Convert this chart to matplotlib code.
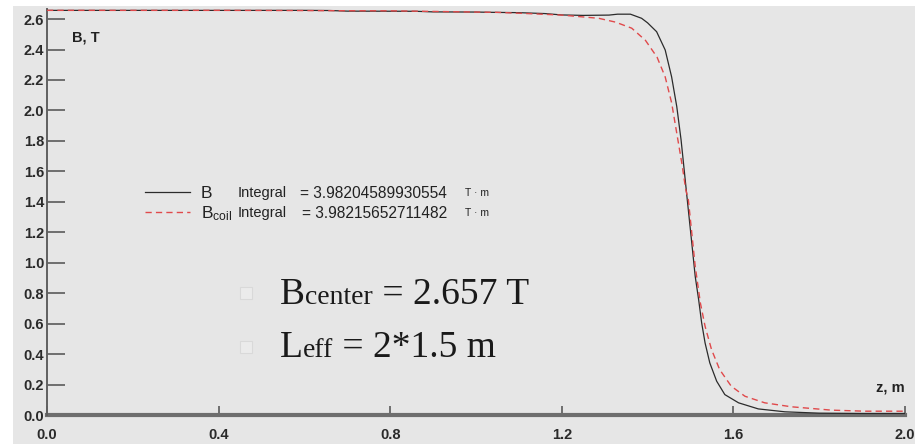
import matplotlib
matplotlib.use("Agg")
import matplotlib.pyplot as plt
from matplotlib.lines import Line2D
from matplotlib.patches import Rectangle

plt.rcParams['font.family'] = ['Liberation Sans', 'DejaVu Sans']
plt.rcParams['mathtext.fontset'] = 'custom'
plt.rcParams['mathtext.rm'] = 'Liberation Sans'
plt.rcParams['mathtext.it'] = 'Liberation Sans'

# ---- data ----
z_B = [0.0, 0.2, 0.4, 0.6, 0.66, 0.70, 0.86, 0.9, 1.0, 1.04, 1.1, 1.16, 1.2, 1.25, 1.31,
       1.33, 1.36, 1.386, 1.40, 1.421, 1.441, 1.456, 1.468, 1.478, 1.486, 1.492, 1.503,
       1.511, 1.519, 1.526, 1.534, 1.545, 1.561, 1.58, 1.612, 1.658, 1.72, 1.80, 1.9, 2.0]
B_B = [2.657, 2.657, 2.657, 2.657, 2.656, 2.652, 2.651, 2.647, 2.646, 2.644, 2.642, 2.636,
       2.627, 2.624, 2.626, 2.632, 2.632, 2.605, 2.575, 2.517, 2.397, 2.22, 2.025, 1.807,
       1.59, 1.426, 1.129, 0.91, 0.757, 0.605, 0.473, 0.342, 0.222, 0.134, 0.08, 0.04,
       0.021, 0.012, 0.01, 0.01]

z_coil = [0.0, 0.4, 0.8, 0.9, 1.0, 1.05, 1.12, 1.2, 1.286, 1.325, 1.363, 1.395, 1.422,
          1.441, 1.456, 1.468, 1.48, 1.489, 1.495, 1.511, 1.523, 1.534, 1.549, 1.568,
          1.595, 1.627, 1.673, 1.735, 1.828, 1.906, 2.0]
B_coil = [2.657, 2.657, 2.654, 2.650, 2.646, 2.644, 2.636, 2.626, 2.605, 2.58, 2.54, 2.46,
          2.35, 2.22, 2.05, 1.85, 1.65, 1.48, 1.413, 0.976, 0.736, 0.582, 0.43, 0.298,
          0.189, 0.123, 0.08, 0.054, 0.032, 0.025, 0.025]

series_names = ["B", "B$_{\\mathrm{coil}}$"]
integrals = ["3.98204589930554", "3.98215652711482"]
x_ticks = [0.0, 0.4, 0.8, 1.2, 1.6, 2.0]
y_ticks = [0.0, 0.2, 0.4, 0.6, 0.8, 1.0, 1.2, 1.4, 1.6, 1.8, 2.0, 2.2, 2.4, 2.6]
B_center = "2.657"
L_eff = "2*1.5"

W, H = 918, 444
fig = plt.figure(figsize=(W / 100, H / 100), dpi=100, facecolor='white')


def fx(x):
    return x / W


def fy(y):
    return 1 - y / H


# gray panel background
fig.patches.append(Rectangle((fx(13), 0), fx(915) - fx(13), fy(6), transform=fig.transFigure,
                             facecolor='#e6e6e6', edgecolor='none', zorder=-10))

ax = fig.add_axes([fx(47), fy(415), fx(905) - fx(47), fy(9) - fy(415)])
ax.set_facecolor('none')
ax.set_zorder(1)
ax.set_xlim(0, 2.0)
ax.set_ylim(0, 2.666)

ax.plot(z_B, B_B, color='#2b2b2b', lw=0.9, zorder=3)
ax.plot(z_coil, B_coil, color='#e0494b', lw=1.0, dashes=(4.5, 3), zorder=4)

for s in ['top', 'right']:
    ax.spines[s].set_visible(False)
ax.spines['left'].set_color('#606060')
ax.spines['left'].set_linewidth(1.4)
ax.spines['bottom'].set_color('#6e6e6e')
ax.spines['bottom'].set_linewidth(3.0)
ax.spines['bottom'].set_zorder(2)

ax.set_xticks(x_ticks)
ax.set_xticklabels([f"{v:.1f}" for v in x_ticks])
ax.set_yticks(y_ticks)
ax.set_yticklabels([f"{v:.1f}" for v in y_ticks])
ax.tick_params(axis='y', direction='in', length=13, width=1.2, color='#5a5a5a',
               labelsize=10.5, labelcolor='#2a2a2a', pad=2)
ax.tick_params(axis='x', direction='in', length=6.5, width=1.2, color='#5a5a5a',
               labelsize=10.5, labelcolor='#2a2a2a', pad=9)
for lab in ax.get_xticklabels() + ax.get_yticklabels():
    lab.set_fontweight('bold')

fig.text(fx(72), fy(37), "B, T", fontsize=10.5, fontweight='bold', color='#222222',
         ha='left', va='center')
fig.text(fx(905), fy(387), "z, m", fontsize=10.5, fontweight='bold', color='#222222',
         ha='right', va='center')

# legend
handles = [Line2D([], [], color='#2b2b2b', lw=0.9),
           Line2D([], [], color='#e0494b', lw=1.0, dashes=(4.5, 3))]
leg = fig.legend(handles, series_names, loc='center left',
                 bbox_to_anchor=(fx(145), fy(204.5)), bbox_transform=fig.transFigure,
                 frameon=False, fontsize=12.5, handlelength=2.6, handletextpad=0.6,
                 labelspacing=0.15, borderpad=0, borderaxespad=0)
for t in leg.get_texts():
    t.set_color('#222222')

for i, val in enumerate(integrals):
    yy = 193 + 20 * i
    fig.text(fx(238), fy(yy), "Integral", fontsize=10.5, color='#222222', ha='left', va='center')
    fig.text(fx(300 + 2 * i), fy(yy), "= " + val, fontsize=11.2, color='#222222',
             ha='left', va='center')
    fig.text(fx(465), fy(yy), "T · m", fontsize=7.5, color='#222222', ha='left', va='center')

# annotation texts with mixed sizes on a shared baseline
fig.canvas.draw()
renderer = fig.canvas.get_renderer()


def write_line(x_px, base_px, parts):
    x = x_px
    for txt, size in parts:
        t = fig.text(fx(x), fy(base_px), txt, fontsize=size, family='Liberation Serif',
                     color='#1a1a1a', ha='left', va='baseline')
        bb = t.get_window_extent(renderer=renderer)
        x += bb.width


write_line(280, 304, [("B", 27), ("center", 20), (" = " + B_center + " T", 27)])
write_line(280, 357, [("L", 27), ("eff", 20), (" = " + L_eff + " m", 27)])

for yy in (293, 347):
    fig.patches.append(Rectangle((fx(240), fy(yy + 6)), fx(12), fy(0) - fy(12),
                                 transform=fig.transFigure, facecolor='#ebebeb',
                                 edgecolor='#d9d9d9', lw=0.8, zorder=-5))

fig.savefig("out.png", dpi=100, facecolor=fig.get_facecolor())
